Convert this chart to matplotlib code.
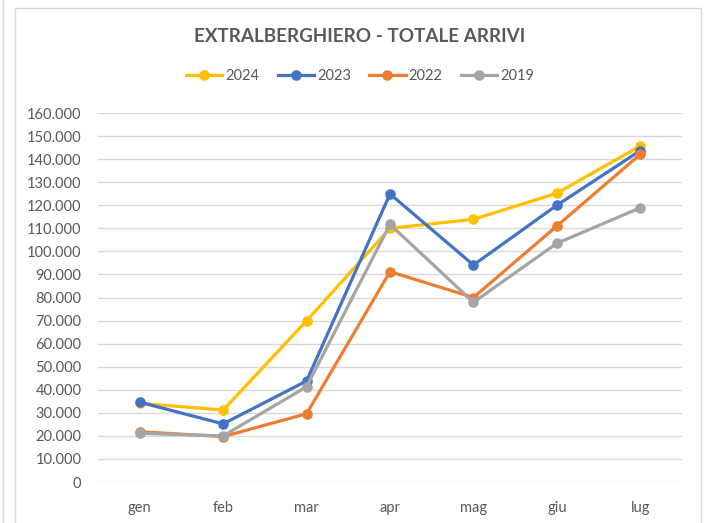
import matplotlib
matplotlib.use("Agg")
import matplotlib.pyplot as plt
from matplotlib.patches import Rectangle
from matplotlib.lines import Line2D
from matplotlib.ticker import FuncFormatter

months = ["gen", "feb", "mar", "apr", "mag", "giu", "lug"]
y2024 = [34100, 31200, 69900, 110000, 113900, 125200, 145700]
y2023 = [34600, 25200, 43800, 124900, 94100, 120000, 143700]
y2022 = [21800, 19700, 29600, 91200, 80000, 111000, 142100]
y2019 = [21100, 20000, 41300, 111700, 77900, 103500, 118900]
series = [("2024", y2024, "#FFC000"), ("2023", y2023, "#4472C4"),
          ("2022", y2022, "#ED7D31"), ("2019", y2019, "#A5A5A5")]

plt.rcParams['font.family'] = ['Lato', 'DejaVu Sans']
txt = "#595959"

fig = plt.figure(figsize=(7.09, 5.23), dpi=100)
fig.patch.set_facecolor("white")
# chart frame
fig.add_artist(Rectangle((15/709, -0.01), (701-15)/709, 1 - 8/523 + 0.01,
                         transform=fig.transFigure, fill=False,
                         edgecolor="#D9D9D9", lw=1))
fig.add_artist(Line2D([3/709, 3/709], [0, 1], transform=fig.transFigure,
                      color="#D9D9D9", lw=1))

ax = fig.add_axes([98/709, 1 - 482/523, (682-98)/709, (482-113)/523])
x = list(range(len(months)))
for name, vals, col in series:
    ax.plot(x, vals, color=col, lw=2.3, marker="o", markersize=6.6,
            label=name, solid_joinstyle="round", zorder=3)

ax.set_xlim(-0.5, len(months) - 0.5)
ax.set_ylim(0, 160000)
ax.set_yticks(range(0, 160001, 10000))
ax.yaxis.set_major_formatter(FuncFormatter(lambda v, p: f"{int(v):,}".replace(",", ".")))
ax.set_xticks(x)
ax.set_xticklabels(months)
ax.grid(axis="y", color="#D9D9D9", lw=1)
ax.set_axisbelow(True)
for s in ax.spines.values():
    s.set_visible(False)
ax.tick_params(axis="both", length=0, labelsize=10.5, labelcolor=txt)
ax.tick_params(axis="y", pad=12)
ax.tick_params(axis="x", pad=14)

fig.text(360/709, 1 - 37/523, "EXTRALBERGHIERO - TOTALE ARRIVI", ha="center",
         va="center", fontsize=13.6, fontweight="bold", color=txt)
handles, labels = ax.get_legend_handles_labels()
leg = fig.legend(handles, labels, loc="center", bbox_to_anchor=(360/709, 1 - 76/523),
                 ncol=4, frameon=False, fontsize=10.5, handlelength=2.5,
                 columnspacing=1.25, handletextpad=0.2)
for t in leg.get_texts():
    t.set_color(txt)

fig.savefig("out.png", dpi=100, facecolor="white")
